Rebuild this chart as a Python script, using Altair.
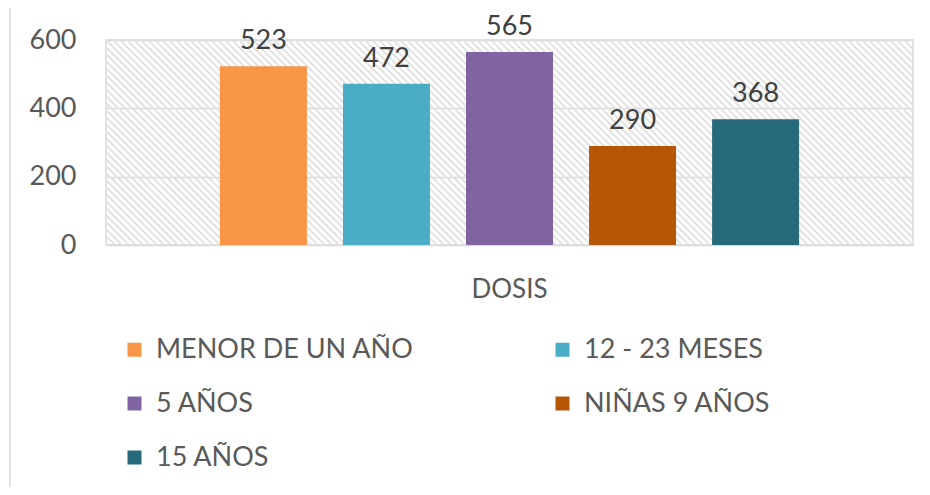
import altair as alt
import pandas as pd

categories = ["MENOR DE UN AÑO", "12 - 23 MESES", "5 AÑOS", "NIÑAS 9 AÑOS", "15 AÑOS"]
values = [523, 472, 565, 290, 368]
colors = ["#F79646", "#4BACC6", "#8064A2", "#B65708", "#266A7B"]
legend_order = ["MENOR DE UN AÑO", "5 AÑOS", "15 AÑOS", "12 - 23 MESES", "NIÑAS 9 AÑOS"]
group = "DOSIS"
y_ticks = [0, 200, 400, 600]

df = pd.DataFrame({"grupo": [group] * len(categories), "serie": categories, "valor": values})

W, H = 807, 205
FONT = "Lato"

# decorative diagonal hatch in the plot background
hatch = alt.Chart(alt.sequence(start=-40, stop=130, step=1, as_="i")).transform_calculate(
    xa="datum.i * 7", xb="datum.i * 7 + 205", ya="0", yb="205"
).mark_rule(color="#e3e3e3", strokeWidth=2, clip=True).encode(
    x=alt.X("xa:Q", scale=None, axis=None),
    x2="xb:Q",
    y=alt.Y("ya:Q", scale=None, axis=None),
    y2="yb:Q",
)

frame = alt.Chart(df).mark_rect(fill="transparent", stroke="#d9d9d9", strokeWidth=1.5).encode(
    x=alt.value(-96), x2=alt.value(900), y=alt.value(-33), y2=alt.value(500)
).transform_filter("datum.serie == '15 AÑOS'")

base = alt.Chart(df).encode(
    x=alt.X("grupo:N", scale=alt.Scale(paddingInner=0, paddingOuter=0.156),
            axis=alt.Axis(title=None, labelFontSize=26, labelFont=FONT, labelColor="#595959",
                          labelPadding=31, ticks=False, domain=False, labelAngle=0)),
    xOffset=alt.XOffset("serie:N", sort=categories,
                        scale=alt.Scale(paddingInner=0.293, paddingOuter=0.146)),
    y=alt.Y("valor:Q", scale=alt.Scale(domain=[0, 600], nice=False),
            axis=alt.Axis(values=y_ticks, title=None, labelFontSize=27, labelFont=FONT,
                          labelColor="#595959", labelPadding=30, ticks=False, domain=False,
                          grid=True, gridColor="#d9d9d9", gridWidth=1.5)),
)

bars = base.mark_bar().encode(
    color=alt.Color("serie:N", sort=categories,
                    scale=alt.Scale(domain=categories, range=colors),
                    legend=alt.Legend(title=None, orient="none", legendX=15, legendY=296,
                                      values=legend_order,
                                      columns=2, symbolType="square", symbolSize=196,
                                      symbolStrokeWidth=0, labelFontSize=27, labelFont=FONT,
                                      labelColor="#595959", labelOffset=8, rowPadding=26,
                                      columnPadding=135, labelLimit=500, gridAlign="each"))
)

labels = base.mark_text(baseline="bottom", dy=-11, fontSize=27, font=FONT, color="#404040").encode(
    text=alt.Text("valor:Q")
)

chart = alt.layer(hatch, alt.layer(bars, labels), frame).resolve_scale(
    x="independent", y="independent"
).properties(
    width=W, height=H,
    padding={"left": 98, "top": 32, "right": 9, "bottom": 242},
    autosize=alt.AutoSizeParams(type="none"),
).configure_view(stroke="#d9d9d9", strokeWidth=1.5)

chart.save("out.html", embed_options={"renderer": "svg", "actions": False})
